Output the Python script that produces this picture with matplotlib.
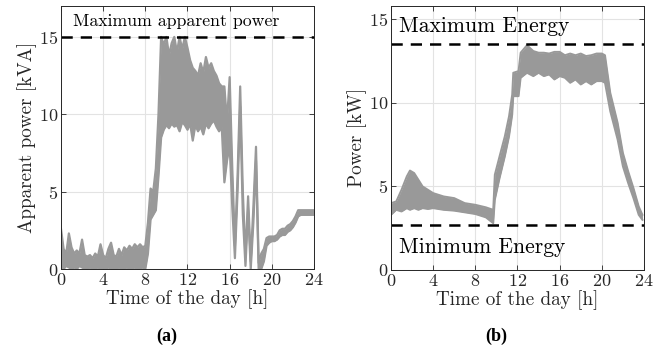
import numpy as np
import matplotlib
matplotlib.use("Agg")
import matplotlib.pyplot as plt

plt.rcParams['font.family'] = ['cmr10', 'DejaVu Serif']
plt.rcParams['axes.formatter.use_mathtext'] = True
plt.rcParams['mathtext.fontset'] = 'cm'

# ---------------- data (a): apparent power envelope of all scenarios ----------------
t_a = np.arange(0, 24.01, 0.25)
upper_a = [2.6, 1.3, 1.0, 2.3, 1.4, 1.0, 1.2, 1.0, 1.9, 0.9, 0.8, 0.9, 0.7, 1.0, 0.8, 1.6,
           0.9, 0.7, 1.3, 1.7, 0.9, 0.8, 1.3, 0.9, 1.4, 1.2, 1.5, 1.3, 1.6, 1.4, 1.6, 1.4,
           1.5, 3.0, 5.2, 5.0, 6.5, 10.0, 15.0, 14.5, 15.0, 13.8, 14.6, 15.0, 14.0, 15.0, 14.2, 15.0,
           14.3, 13.5, 13.0, 12.8, 12.5, 13.3, 12.7, 13.7, 13.0, 13.3, 12.8, 12.5, 12.0, 11.8, 11.8, 9.5,
           12.4, 6.5, 1.5, 6.0, 11.8, 5.0, 0.8, 4.7, 0.5, 4.0, 7.9, 0.4, 1.0, 1.3, 2.0, 2.1,
           2.1, 2.1, 2.2, 2.5, 2.6, 2.6, 2.8, 2.9, 3.1, 3.4, 3.8, 3.8, 3.8, 3.8, 3.8, 3.8, 3.8]
lower_a = [0.1, 0.0, 0.2, 0.1, 0.0, 0.1, 0.0, 0.2, 0.1, 0.0, 0.0, 0.1, 0.0, 0.0, 0.1, 0.0,
           0.0, 0.0, 0.1, 0.0, 0.0, 0.0, 0.1, 0.0, 0.0, 0.1, 0.0, 0.0, 0.1, 0.0, 0.0, 0.1,
           0.0, 1.0, 3.2, 3.5, 3.8, 6.0, 8.5, 9.0, 9.3, 9.1, 9.4, 9.2, 9.3, 8.9, 9.5, 9.3,
           9.0, 9.4, 8.3, 9.3, 8.9, 9.2, 8.7, 9.4, 9.1, 9.4, 9.6, 9.2, 8.9, 9.2, 5.6, 7.0,
           8.0, 4.0, 0.7, 5.0, 10.5, 3.5, 0.2, 3.8, 0.0, 3.0, 7.0, 0.0, 0.0, 0.5, 1.5, 1.7,
           1.8, 1.8, 1.9, 2.1, 2.2, 2.2, 2.4, 2.5, 2.7, 3.0, 3.4, 3.5, 3.5, 3.5, 3.5, 3.5, 3.5]
max_apparent = 15.0

# ---------------- data (b): power envelope of all scenarios ----------------
t_b = [0, 0.5, 1.0, 1.5, 1.8, 2.2, 2.6, 3.0, 3.5, 4.0, 5.0, 6.0, 7.0, 8.0, 9.0, 9.7, 9.85,
       10.3, 10.8, 11.2, 11.5, 11.6, 12.1, 12.3, 12.9, 13.5, 14.0, 14.5, 15.0, 15.5, 16.0,
       16.5, 17.0, 17.5, 18.0, 18.5, 19.0, 19.5, 20.0, 20.3, 20.8, 21.5, 22.0, 22.5, 23.0,
       23.5, 23.85]
upper_b = [4.0, 4.1, 4.8, 5.6, 5.95, 5.8, 5.4, 5.0, 4.8, 4.6, 4.4, 4.3, 4.0, 3.9, 3.75, 3.6, 5.7,
           6.8, 8.0, 9.2, 10.5, 11.8, 11.9, 13.0, 13.45, 13.1, 13.0, 13.0, 12.95, 13.05, 13.05,
           12.85, 12.95, 12.85, 12.95, 12.8, 12.85, 12.95, 12.95, 12.85, 10.6, 8.8, 7.0, 5.9, 4.9,
           3.8, 3.3]
lower_b = [3.3, 3.6, 3.5, 3.7, 3.6, 3.7, 3.6, 3.7, 3.65, 3.7, 3.6, 3.55, 3.45, 3.35, 3.15, 2.8, 4.2,
           5.5, 6.8, 8.0, 9.3, 10.4, 10.4, 11.5, 11.8, 11.6, 11.8, 11.6, 11.7, 11.4, 11.6,
           11.5, 11.2, 11.4, 11.1, 11.3, 11.1, 11.3, 11.3, 11.2, 9.5, 7.8, 6.2, 5.2, 4.3,
           3.3, 3.0]
max_energy = 13.5
min_energy = 2.7

xticks = [0, 4, 8, 12, 16, 20, 24]
gray = '#999999'

fig = plt.figure(figsize=(6.62, 3.54), dpi=100)
ax1 = fig.add_axes([0.0921, 0.2401, 0.3822, 0.743])
ax2 = fig.add_axes([0.5906, 0.2373, 0.3822, 0.746])

for ax in (ax1, ax2):
    ax.set_xlim(0, 24)
    ax.set_xticks(xticks)
    ax.grid(True, color='#e3e3e3', linewidth=0.8)
    ax.set_axisbelow(True)
    ax.tick_params(direction='in', top=True, right=True, labelsize=13, length=3.5,
                   width=0.6, pad=2, colors='#262626')
    for s in ax.spines.values():
        s.set_linewidth(0.7)
        s.set_color('#262626')
    ax.set_xlabel('Time of the day [h]', fontsize=13.8, labelpad=1, color='#262626')

# (a)
ax1.fill_between(t_a, lower_a, upper_a, color=gray, linewidth=0)
ax1.plot(t_a, upper_a, color=gray, lw=1.6)
ax1.plot(t_a, lower_a, color=gray, lw=1.6)
ax1.axhline(max_apparent, color='black', lw=1.8, dashes=(4.5, 3.2))
ax1.set_ylim(0, 17)
ax1.set_yticks([0, 5, 10, 15])
ax1.set_ylabel('Apparent power [kVA]', fontsize=13.8, labelpad=1, color='#262626')
ax1.text(1.1, 16.0, 'Maximum apparent power', fontsize=12.8, va='center', ha='left')

# (b)
ax2.fill_between(t_b, lower_b, upper_b, color=gray, linewidth=0)
ax2.plot(t_b, upper_b, color=gray, lw=1.4)
ax2.plot(t_b, lower_b, color=gray, lw=1.4)
ax2.axhline(max_energy, color='black', lw=1.8, dashes=(4.5, 3.2))
ax2.axhline(min_energy, color='black', lw=1.8, dashes=(4.5, 3.2))
ax2.set_ylim(0, 15.8)
ax2.set_yticks([0, 5, 10, 15])
ax2.set_ylabel('Power [kW]', fontsize=13.8, labelpad=1, color='#262626')
ax2.text(0.8, 14.6, 'Maximum Energy', fontsize=15.5, va='center', ha='left')
ax2.text(0.8, 1.35, 'Minimum Energy', fontsize=15.5, va='center', ha='left')

fig.text(0.252, 0.05, '(a)', fontsize=13, fontweight='bold', family=['Liberation Serif'],
         ha='center', va='center')
fig.text(0.749, 0.05, '(b)', fontsize=13, fontweight='bold', family=['Liberation Serif'],
         ha='center', va='center')

fig.savefig('out.png', dpi=100)
